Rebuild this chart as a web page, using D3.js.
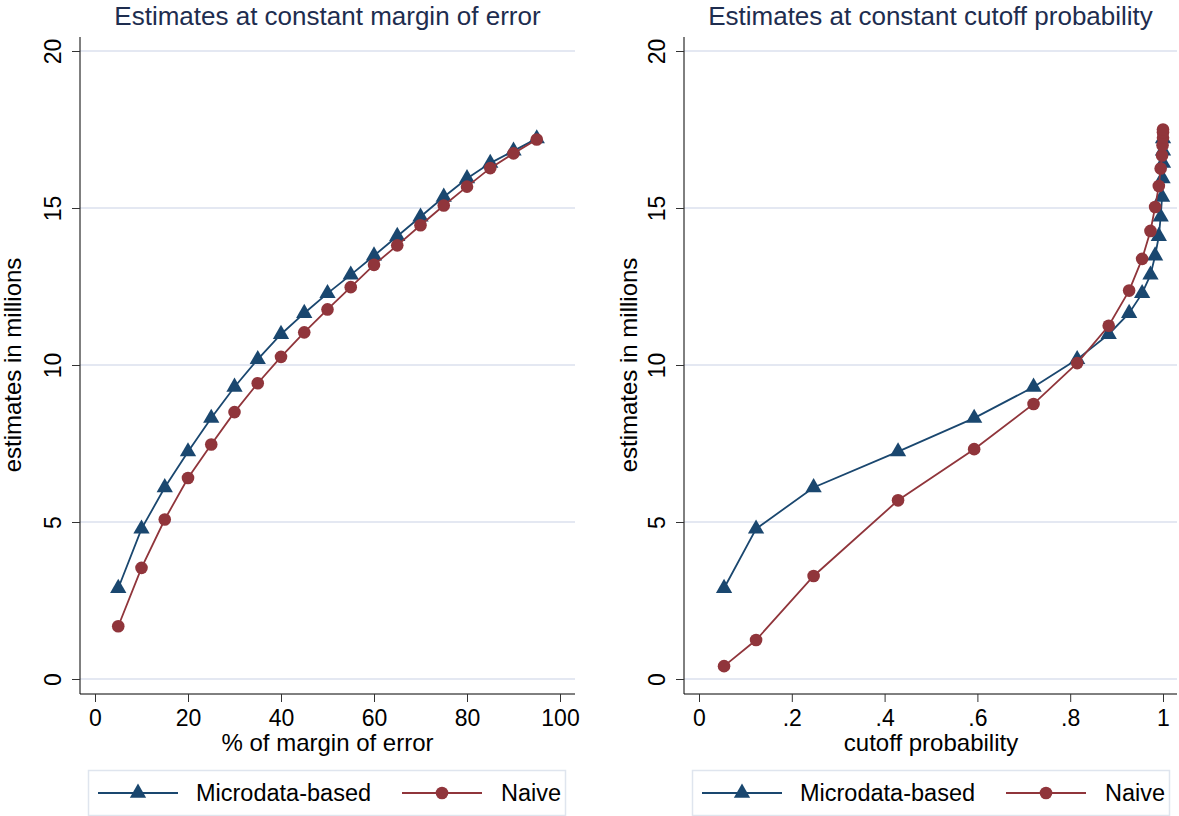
<!DOCTYPE html>
<html>
<head>
<meta charset="utf-8">
<script src="https://cdn.jsdelivr.net/npm/d3@7"></script>
<style>
  body { margin: 0; background: #fff; }
  text { font-family: "Liberation Sans", Arial, sans-serif; }
</style>
</head>
<body>
<svg id="chart" width="1179" height="816"></svg>
<script>
// margin of error (%) for the left panel
const marginPct = [5, 10, 15, 20, 25, 30, 35, 40, 45, 50, 55, 60, 65, 70, 75, 80, 85, 90, 95];
// cutoff probability for the right panel
const cutoffProb = [0.054, 0.123, 0.247, 0.429, 0.593, 0.721, 0.815, 0.883, 0.927, 0.955,
                    0.973, 0.983, 0.991, 0.995, 0.998, 0.999, 1.0, 1.0, 1.0];

// estimates in millions
const microLeft = [2.89, 4.78, 6.10, 7.24, 8.31, 9.30, 10.18, 10.98, 11.65, 12.28,
                   12.87, 13.48, 14.10, 14.72, 15.35, 15.94, 16.43, 16.82, 17.21];
const naiveLeft = [1.68, 3.54, 5.08, 6.40, 7.47, 8.50, 9.42, 10.26, 11.04, 11.77,
                   12.48, 13.19, 13.81, 14.45, 15.08, 15.68, 16.27, 16.74, 17.18];
const microRight = [2.89, 4.78, 6.10, 7.24, 8.31, 9.30, 10.18, 10.98, 11.65, 12.28,
                    12.87, 13.48, 14.10, 14.72, 15.35, 15.94, 16.43, 16.82, 17.21];
const naiveRight = [0.41, 1.24, 3.28, 5.69, 7.32, 8.76, 10.06, 11.25, 12.37, 13.38,
                    14.27, 15.03, 15.70, 16.26, 16.67, 17.00, 17.24, 17.41, 17.50];

const yTicks = [0, 5, 10, 15, 20];
const xTicksLeft = [0, 20, 40, 60, 80, 100];
const xTicksRight = [0, 0.2, 0.4, 0.6, 0.8, 1];

const navy = "#1a476f";
const maroon = "#90353b";
const gridColor = "#e4e8f2";
const titleColor = "#1e2d4f";

const svg = d3.select("#chart");

function drawPanel(p) {
    const g = svg.append("g");
    const x = d3.scaleLinear().domain(p.xDomain).range(p.xRange);
    const y = d3.scaleLinear().domain([0, 20]).range([679, 51]);

    // gridlines
    g.selectAll("line.grid")
        .data(yTicks)
        .join("line")
        .attr("class", "grid")
        .attr("x1", p.left).attr("x2", p.right)
        .attr("y1", d => y(d)).attr("y2", d => y(d))
        .attr("stroke", gridColor)
        .attr("stroke-width", 2);

    // y axis
    const yAxis = g.append("g")
        .attr("transform", `translate(${p.left},0)`)
        .call(d3.axisLeft(y).tickValues(yTicks).tickSize(8).tickFormat(d3.format("d")));
    yAxis.select(".domain").attr("d", `M-0,${y(20) - 14}V${p.bottom}`).attr("stroke", "#000");
    yAxis.selectAll(".tick line").attr("stroke", "#333");
    yAxis.selectAll(".tick text")
        .attr("x", 0).attr("y", 0).attr("dy", 0)
        .attr("transform", "translate(-19,0) rotate(-90)")
        .attr("text-anchor", "middle")
        .attr("font-size", 23)
        .attr("fill", "#000")
        .style("font-family", "Liberation Sans, Arial, sans-serif");

    // x axis
    const xAxis = g.append("g")
        .attr("transform", `translate(0,${p.bottom})`)
        .call(d3.axisBottom(x).tickValues(p.xTicks).tickSize(8).tickFormat(p.xFormat));
    xAxis.select(".domain").attr("d", `M${p.left},0H${p.right}`).attr("stroke", "#000");
    xAxis.selectAll(".tick line").attr("stroke", "#333");
    xAxis.selectAll(".tick text")
        .attr("y", 32).attr("dy", 0)
        .attr("font-size", 23)
        .attr("fill", "#000")
        .style("font-family", "Liberation Sans, Arial, sans-serif");

    // titles
    g.append("text")
        .attr("x", (p.left + p.right) / 2)
        .attr("y", 25)
        .attr("text-anchor", "middle")
        .attr("font-size", 26)
        .attr("fill", titleColor)
        .text(p.title);

    g.append("text")
        .attr("x", (p.xRange[0] + p.xRange[1]) / 2)
        .attr("y", 751)
        .attr("text-anchor", "middle")
        .attr("font-size", 24)
        .text(p.xLabel);

    g.append("text")
        .attr("transform", `translate(${p.left - p.yTitleOff},${y(10)}) rotate(-90)`)
        .attr("text-anchor", "middle")
        .attr("font-size", 24)
        .text("estimates in millions");

    // series
    const series = [
        {vals: p.micro, color: navy, shape: "tri"},
        {vals: p.naive, color: maroon, shape: "dot"}
    ];
    const line = d3.line().x(d => x(d[0])).y(d => y(d[1]));

    series.forEach(s => {
        const pts = p.xs.map((v, i) => [v, s.vals[i]]);
        g.append("path")
            .datum(pts)
            .attr("d", line)
            .attr("fill", "none")
            .attr("stroke", s.color)
            .attr("stroke-width", 1.8);
        const sym = s.shape === "tri"
            ? d3.symbol().type(d3.symbolTriangle).size(115)
            : d3.symbol().type(d3.symbolCircle).size(125);
        g.selectAll(null)
            .data(pts)
            .join("path")
            .attr("transform", d => `translate(${x(d[0])},${y(d[1])})`)
            .attr("d", sym)
            .attr("fill", s.color);
    });

    // legend
    const lg = g.append("g");
    lg.append("rect")
        .attr("x", p.legX + 0.5).attr("y", 770.5)
        .attr("width", 477).attr("height", 45)
        .attr("fill", "#fff")
        .attr("stroke", "#dfe5ee")
        .attr("stroke-width", 1.5);
    const items = [
        {name: "Microdata-based", color: navy, shape: "tri", x0: p.legX + 10, tx: p.legX + 108},
        {name: "Naive", color: maroon, shape: "dot", x0: p.legX + 314, tx: p.legX + 413}
    ];
    items.forEach(it => {
        lg.append("line")
            .attr("x1", it.x0).attr("x2", it.x0 + 80)
            .attr("y1", 793).attr("y2", 793)
            .attr("stroke", it.color).attr("stroke-width", 1.8);
        const sym = it.shape === "tri"
            ? d3.symbol().type(d3.symbolTriangle).size(115)
            : d3.symbol().type(d3.symbolCircle).size(125);
        lg.append("path")
            .attr("transform", `translate(${it.x0 + 40},793)`)
            .attr("d", sym)
            .attr("fill", it.color);
        lg.append("text")
            .attr("x", it.tx).attr("y", 801)
            .attr("font-size", 23.5)
            .text(it.name);
    });
}

drawPanel({
    left: 80, right: 575, bottom: 694, legX: 88, yTitleOff: 59,
    xDomain: [0, 100], xRange: [95, 560],
    xTicks: xTicksLeft, xFormat: d3.format("d"),
    xs: marginPct, micro: microLeft, naive: naiveLeft,
    title: "Estimates at constant margin of error",
    xLabel: "% of margin of error"
});

drawPanel({
    left: 684, right: 1177, bottom: 694, legX: 692, yTitleOff: 47,
    xDomain: [0, 1], xRange: [699, 1163],
    xTicks: xTicksRight, xFormat: d => d === 0 ? "0" : d === 1 ? "1" : String(d).replace(/^0/, ""),
    xs: cutoffProb, micro: microRight, naive: naiveRight,
    title: "Estimates at constant cutoff probability",
    xLabel: "cutoff probability"
});
</script>
</body>
</html>
